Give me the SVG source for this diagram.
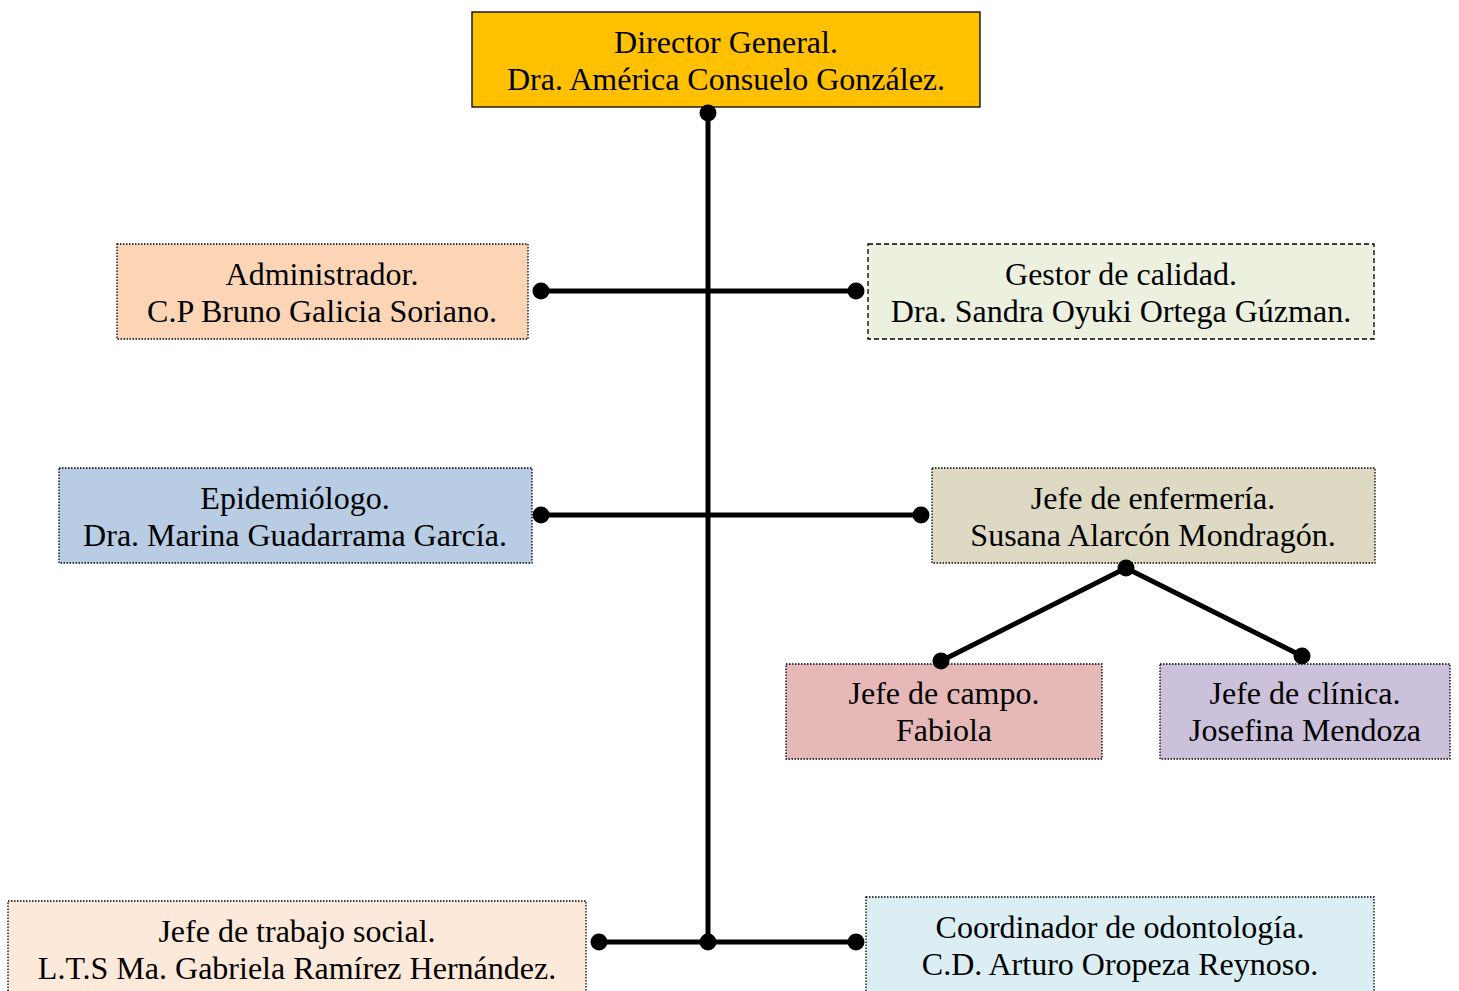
<svg xmlns="http://www.w3.org/2000/svg" width="1459" height="991" viewBox="0 0 1459 991">
<style>
.box{stroke:#000;stroke-width:1.3}
.dot{stroke-dasharray:1.5 1.5}
.dash{stroke-dasharray:5 3}
text{font-family:"Liberation Serif","Times New Roman",serif;font-size:32px;fill:#000;text-anchor:middle}
.ln{stroke:#000;stroke-width:5;fill:none}
.pt{fill:#000}
</style>
<rect width="1459" height="991" fill="#fff"/>
<g id="director">
<rect class="box" x="472" y="12" width="508" height="95" fill="#FFC000" stroke-width="1.8"/>
<text x="726" y="53">Director General.</text>
<text x="726" y="90">Dra. América Consuelo González.</text>
</g>
<g id="administrador">
<rect class="box dot" x="117" y="244" width="411" height="95" fill="#FBD5B5"/>
<text x="322" y="285">Administrador.</text>
<text x="322" y="322">C.P Bruno Galicia Soriano.</text>
</g>
<g id="gestor">
<rect class="box dash" x="868" y="244" width="506" height="95" fill="#EBF1DE"/>
<text x="1121" y="285">Gestor de calidad.</text>
<text x="1121" y="322">Dra. Sandra Oyuki Ortega Gúzman.</text>
</g>
<g id="epidemiologo">
<rect class="box dot" x="59" y="468" width="473" height="95" fill="#B8CCE4"/>
<text x="295" y="509">Epidemiólogo.</text>
<text x="295" y="546">Dra. Marina Guadarrama García.</text>
</g>
<g id="enfermeria">
<rect class="box dot" x="932" y="468" width="443" height="95" fill="#DDD9C3"/>
<text x="1153" y="509">Jefe de enfermería.</text>
<text x="1153" y="546">Susana Alarcón Mondragón.</text>
</g>
<g id="campo">
<rect class="box dot" x="786" y="664" width="316" height="95" fill="#E6B9B8"/>
<text x="944" y="704">Jefe de campo.</text>
<text x="944" y="741">Fabiola</text>
</g>
<g id="clinica">
<rect class="box dot" x="1160" y="664" width="290" height="95" fill="#CCC1DA"/>
<text x="1305" y="704">Jefe de clínica.</text>
<text x="1305" y="741">Josefina Mendoza</text>
</g>
<g id="trabajo-social">
<rect class="box dot" x="8" y="901" width="578" height="100" fill="#FDE9D9"/>
<text x="297" y="942">Jefe de trabajo social.</text>
<text x="297" y="979">L.T.S Ma. Gabriela Ramírez Hernández.</text>
</g>
<g id="odontologia">
<rect class="box dot" x="866" y="897" width="508" height="100" fill="#DBEEF3"/>
<text x="1120" y="938">Coordinador de odontología.</text>
<text x="1120" y="975">C.D. Arturo Oropeza Reynoso.</text>
</g>
<g id="connectors">
<path class="ln" d="M708 113V942M541 291H856M541 515H921M599 942H856M941 661L1126 568L1302 656"/>
<circle class="pt" cx="708" cy="113" r="8.5"/>
<circle class="pt" cx="541" cy="291" r="8.5"/>
<circle class="pt" cx="856" cy="291" r="8.5"/>
<circle class="pt" cx="541" cy="515" r="8.5"/>
<circle class="pt" cx="921" cy="515" r="8.5"/>
<circle class="pt" cx="1126" cy="568" r="8.5"/>
<circle class="pt" cx="941" cy="661" r="8.5"/>
<circle class="pt" cx="1302" cy="656" r="8.5"/>
<circle class="pt" cx="599" cy="942" r="8.5"/>
<circle class="pt" cx="708" cy="942" r="8.5"/>
<circle class="pt" cx="856" cy="942" r="8.5"/>
</g>
</svg>
